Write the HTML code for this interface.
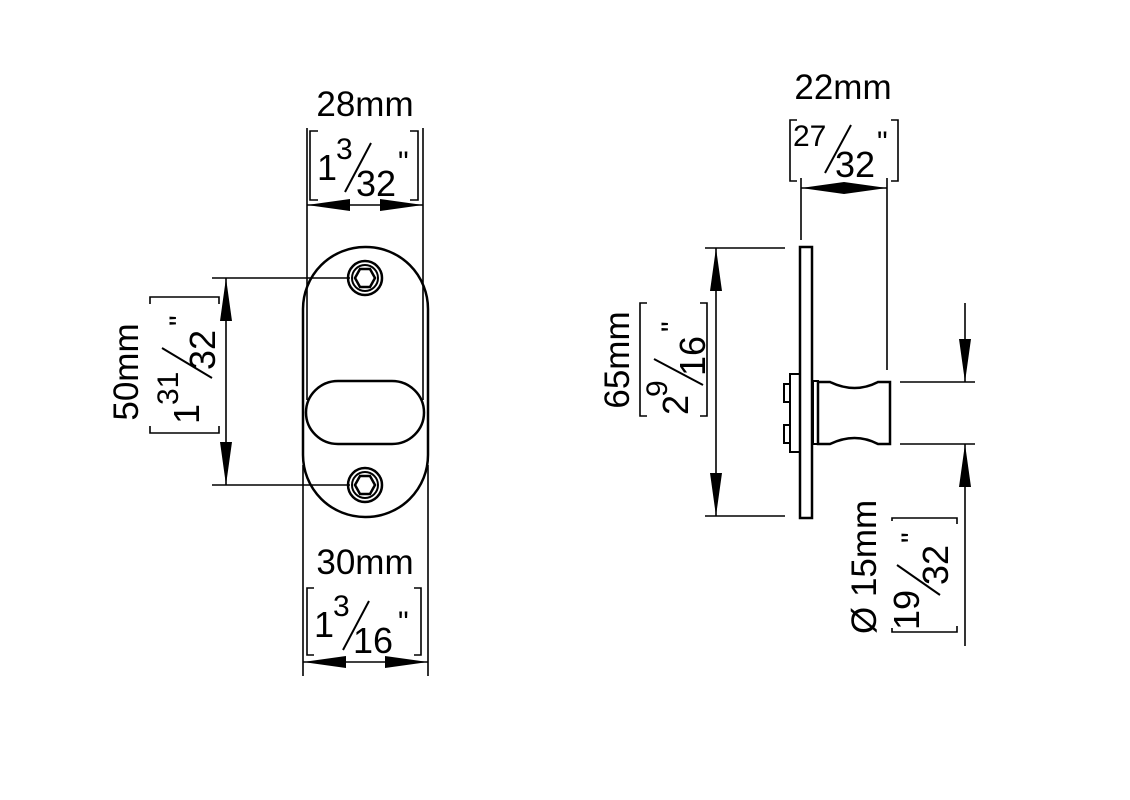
<!DOCTYPE html>
<html><head><style>
html,body{margin:0;padding:0;background:#fff;}
svg{display:block;}
text{font-family:"Liberation Sans",sans-serif;fill:#000;}
</style></head><body>
<svg width="1130" height="800" viewBox="0 0 1130 800" xmlns="http://www.w3.org/2000/svg">
<g fill="none" stroke="#000" stroke-width="2">
<rect x="303" y="247" width="125" height="270" rx="62" ry="62" stroke-width="2.5"/>
<rect x="306" y="381" width="118" height="63" rx="32" ry="32" stroke-width="2.5"/>
<circle cx="365" cy="278" r="17" stroke-width="2.5"/><circle cx="365" cy="278" r="13"/>
<polygon points="355,278 360,269 370,269 375,278 370,287 360,287" stroke-width="2.5"/>
<circle cx="365" cy="485" r="17" stroke-width="2.5"/><circle cx="365" cy="485" r="13"/>
<polygon points="355,485 360,476 370,476 375,485 370,494 360,494" stroke-width="2.5"/>
<line x1="307" y1="128" x2="307" y2="400" stroke-width="1.6"/>
<line x1="423" y1="128" x2="423" y2="400" stroke-width="1.6"/>
<line x1="303" y1="465" x2="303" y2="676" stroke-width="1.6"/>
<line x1="428" y1="465" x2="428" y2="676" stroke-width="1.6"/>
<line x1="212" y1="278" x2="350" y2="278" stroke-width="1.6"/>
<line x1="212" y1="485" x2="350" y2="485" stroke-width="1.6"/>
<line x1="307" y1="205" x2="423" y2="205" stroke-width="1.6"/>
<line x1="303" y1="662" x2="428" y2="662" stroke-width="1.6"/>
<line x1="226" y1="278" x2="226" y2="485" stroke-width="1.6"/>
<polyline points="318,131 310,131 310,200 318,200" stroke-width="1.6"/>
<polyline points="410,131 418,131 418,200 410,200" stroke-width="1.6"/>
<polyline points="314,588 307,588 307,655 314,655" stroke-width="1.6"/>
<polyline points="414,588 421,588 421,655 414,655" stroke-width="1.6"/>
<polyline points="150,304 150,297 219,297 219,304" stroke-width="1.6"/>
<polyline points="150,426 150,433 219,433 219,426" stroke-width="1.6"/>
<rect x="800" y="247" width="12" height="271" stroke-width="2.5"/>
<rect x="813" y="381" width="5" height="63" stroke-width="2"/>
<path d="M818,382 L830,382 Q855,394 878,382 L890,382 L890,444 L878,444 Q855,432 830,444 L818,444 Z" stroke-width="2.5"/>
<rect x="790" y="374" width="10" height="78" stroke-width="2"/>
<rect x="784" y="384" width="6" height="18" stroke-width="2"/>
<rect x="784" y="425" width="6" height="18" stroke-width="2"/>
<line x1="705" y1="248" x2="785" y2="248" stroke-width="1.6"/>
<line x1="705" y1="516" x2="785" y2="516" stroke-width="1.6"/>
<line x1="716" y1="248" x2="716" y2="516" stroke-width="1.6"/>
<line x1="801" y1="178" x2="801" y2="240" stroke-width="1.6"/>
<line x1="887" y1="178" x2="887" y2="370" stroke-width="1.6"/>
<line x1="801" y1="188" x2="887" y2="188" stroke-width="1.6"/>
<polyline points="797,120 790,120 790,181 797,181" stroke-width="1.6"/>
<polyline points="891,120 898,120 898,181 891,181" stroke-width="1.6"/>
<polyline points="647,303 640,303 640,416 647,416" stroke-width="1.6"/>
<polyline points="700,303 707,303 707,416 700,416" stroke-width="1.6"/>
<line x1="900" y1="382" x2="975" y2="382" stroke-width="1.6"/>
<line x1="900" y1="444" x2="975" y2="444" stroke-width="1.6"/>
<line x1="965" y1="303" x2="965" y2="382" stroke-width="1.6"/>
<line x1="965" y1="444" x2="965" y2="646" stroke-width="1.6"/>
<polyline points="892,521 892,518 957,518 957,524" stroke-width="1.6"/>
<polyline points="892,628 892,632 957,632 957,626" stroke-width="1.6"/>
</g>
<g fill="#000">
<polygon points="307,205 350,199 350,211"/><polygon points="423,205 380,199 380,211"/>
<polygon points="303,662 346,656 346,668"/><polygon points="428,662 385,656 385,668"/>
<polygon points="226,278 220,321 232,321"/><polygon points="226,485 220,442 232,442"/>
<polygon points="716,248 710,291 722,291"/><polygon points="716,516 710,473 722,473"/>
<polygon points="801,188 844,182 844,194"/><polygon points="887,188 844,182 844,194"/>
<polygon points="965,382 959,339 971,339"/><polygon points="965,444 959,487 971,487"/>
</g>
<text x="365" y="116" font-size="35" text-anchor="middle">28mm</text>
<text x="317" y="180" font-size="36">1</text>
<text x="336" y="159" font-size="30">3</text>
<line x1="345" y1="192" x2="371" y2="143" stroke="#000" stroke-width="2"/>
<text x="356" y="196" font-size="36">32</text>
<text x="398" y="172" font-size="30">"</text>
<text x="365" y="574" font-size="35" text-anchor="middle">30mm</text>
<text x="314" y="637" font-size="36">1</text>
<text x="333" y="616" font-size="30">3</text>
<line x1="343" y1="650" x2="369" y2="601" stroke="#000" stroke-width="2"/>
<text x="353" y="653" font-size="36">16</text>
<text x="398" y="632" font-size="30">"</text>
<g transform="translate(138,372) rotate(-90)"><text x="0" y="0" font-size="35" text-anchor="middle">50mm</text></g>
<g transform="rotate(-90)">
<text x="-424" y="199" font-size="36">1</text>
<text x="-405" y="178" font-size="30">31</text>
<line x1="-378" y1="212" x2="-348" y2="162" stroke="#000" stroke-width="2"/>
<text x="-370" y="215" font-size="36">32</text>
<text x="-326" y="190" font-size="30">"</text>
</g>
<text x="843" y="99" font-size="35" text-anchor="middle">22mm</text>
<text x="793" y="146" font-size="30">27</text>
<line x1="825" y1="173" x2="851" y2="125" stroke="#000" stroke-width="2"/>
<text x="835" y="177" font-size="36">32</text>
<text x="877" y="152" font-size="30">"</text>
<g transform="translate(629,360) rotate(-90)"><text x="0" y="0" font-size="35" text-anchor="middle">65mm</text></g>
<g transform="rotate(-90)">
<text x="-415" y="688" font-size="36">2</text>
<text x="-397" y="667" font-size="30">9</text>
<line x1="-385" y1="703" x2="-359" y2="654" stroke="#000" stroke-width="2"/>
<text x="-376" y="705" font-size="36">16</text>
<text x="-332" y="682" font-size="30">"</text>
</g>
<g transform="rotate(-90)">
<text x="-634" y="876" font-size="35">Ø 15mm</text>
<text x="-630" y="919" font-size="36">19</text>
<line x1="-595" y1="940" x2="-565" y2="897" stroke="#000" stroke-width="2"/>
<text x="-585" y="948" font-size="36">32</text>
<text x="-543" y="922" font-size="30">"</text>
</g>
</svg>
</body></html>
